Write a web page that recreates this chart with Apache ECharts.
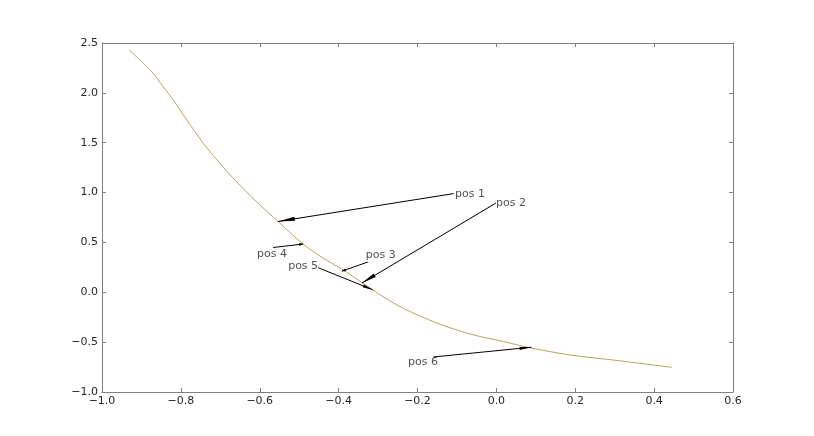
<!DOCTYPE html>
<html>
<head>
<meta charset="utf-8">
<script src="https://cdn.jsdelivr.net/npm/echarts@6/dist/echarts.min.js"></script>
<style>html,body{margin:0;padding:0;background:#fff}#c{width:814px;height:436px}</style>
</head>
<body>
<div id="c"></div>
<script>
// curve data
var curveX = [-0.931, -0.895, -0.870, -0.845, -0.819, -0.785, -0.743, -0.701, -0.663, -0.610, -0.553, -0.490, -0.440, -0.388, -0.338, -0.287, -0.236, -0.151, -0.067, 0.018, 0.085, 0.187, 0.313, 0.445];
var curveY = [2.430, 2.296, 2.196, 2.062, 1.928, 1.728, 1.494, 1.293, 1.126, 0.915, 0.708, 0.484, 0.345, 0.223, 0.090, -0.045, -0.161, -0.308, -0.418, -0.494, -0.556, -0.629, -0.687, -0.753];

// annotations
var annNames = ['pos 1', 'pos 2', 'pos 3', 'pos 4', 'pos 5', 'pos 6'];
var textX = [-0.067, 0.037, -0.293, -0.569, -0.490, -0.186];
var textY = [0.980, 0.895, 0.373, 0.383, 0.263, -0.696];
var startX = [-0.108, -0.001, -0.326, -0.566, -0.452, -0.160];
var startY = [0.990, 0.895, 0.303, 0.449, 0.247, -0.649];
var tipX = [-0.554, -0.341, -0.392, -0.490, -0.314, 0.089];
var tipY = [0.710, 0.093, 0.212, 0.484, 0.026, -0.551];
var headW = [4, 4, 3, 3, 3, 3];
var headL = [17, 15, 4, 4, 10, 12];

var xTicksMin = -1.0, xTicksMax = 0.6, xStep = 0.2;
var yTicksMin = -1.0, yTicksMax = 2.5, yStep = 0.5;

var fmt = function (v) { var s = (Math.abs(v) < 1e-9 ? 0 : v).toFixed(1); return s.replace('-', '\u2212'); };
var axisGrey = '#808080';
var font = 'DejaVu Sans';

var curve = curveX.map(function (x, i) { return [x, curveY[i]]; });
var texts = annNames.map(function (n, i) { return { name: n, value: [textX[i], textY[i]] }; });
var arrows = annNames.map(function (n, i) {
  return [
    { coord: [startX[i], startY[i]], symbol: 'none' },
    { coord: [tipX[i], tipY[i]], symbol: 'triangle', symbolSize: [headW[i], headL[i]], symbolOffset: [0, headL[i] / 2] }
  ];
});

function baseAxis(pos, showLabel) {
  return {
    position: pos,
    axisLine: { show: true, onZero: false, lineStyle: { color: axisGrey, width: 1 } },
    axisTick: { show: true, inside: true, length: 4, lineStyle: { color: axisGrey } },
    axisLabel: { show: showLabel, formatter: fmt, color: '#262626', fontFamily: font, fontSize: 11, margin: 4 },
    splitLine: { show: false }
  };
}

var xa1 = Object.assign({ type: 'value', min: xTicksMin, max: xTicksMax, interval: xStep }, baseAxis('bottom', true));
var xa2 = Object.assign({ type: 'value', min: xTicksMin, max: xTicksMax, interval: xStep }, baseAxis('top', false));
var ya1 = Object.assign({ type: 'value', min: yTicksMin, max: yTicksMax, interval: yStep }, baseAxis('left', true));
var ya2 = Object.assign({ type: 'value', min: yTicksMin, max: yTicksMax, interval: yStep }, baseAxis('right', false));

var chart = echarts.init(document.getElementById('c'), null, { renderer: 'canvas' });
chart.setOption({
  animation: false,
  backgroundColor: '#fff',
  grid: { left: 102, right: 81, top: 43, bottom: 44, containLabel: false },
  xAxis: [xa1, xa2],
  yAxis: [ya1, ya2],
  series: [
    {
      type: 'line', data: curve, showSymbol: false, symbol: 'none', smooth: 0.3,
      lineStyle: { color: '#bca35a', width: 1 },
      markLine: {
        silent: true, symbol: ['none', 'triangle'],
        lineStyle: { color: '#000', width: 1, type: 'solid' },
        itemStyle: { color: '#000' },
        label: { show: false },
        data: arrows
      }
    },
    {
      type: 'scatter', data: texts, symbolSize: 0,
      label: { show: true, position: 'inside', formatter: '{b}', color: '#262626', fontFamily: font, fontSize: 11 }
    }
  ]
});
</script>
</body>
</html>
